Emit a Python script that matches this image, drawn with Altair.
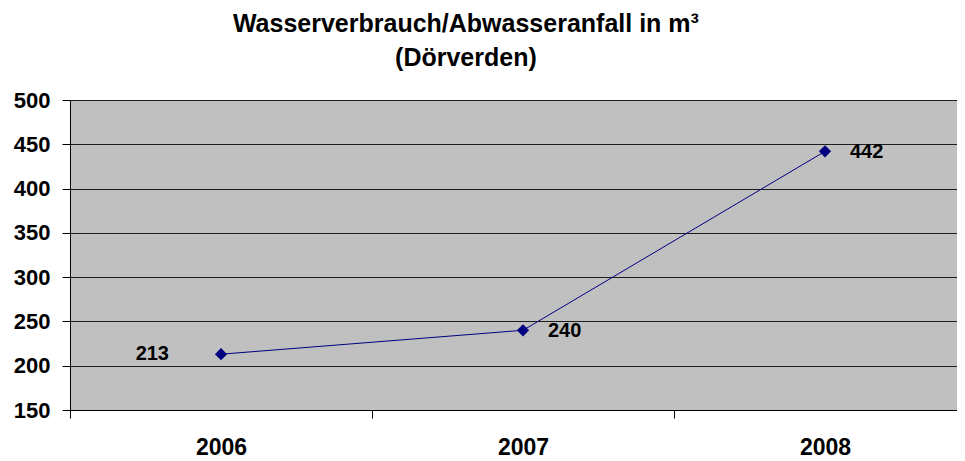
import altair as alt
import pandas as pd

years = ["2006", "2007", "2008"]
values = [213, 240, 442]
y_ticks = [150, 200, 250, 300, 350, 400, 450, 500]

df = pd.DataFrame({"year": years, "value": values})

FONT = "Liberation Sans"

x_enc = alt.X(
    "year:N",
    title=None,
    sort=years,
    scale=alt.Scale(type="band", range=[0, 906], paddingInner=0, paddingOuter=0),
    axis=alt.Axis(
        tickBand="extent", labelAngle=0, tickSize=8, tickColor="black",
        domainColor="black", labelFont=FONT, labelFontSize=23,
        labelFontWeight="bold", labelColor="black", labelPadding=18,
        grid=False,
    ),
)
y_enc = alt.Y(
    "value:Q",
    title=None,
    scale=alt.Scale(domain=[150, 500], nice=False, zero=False),
    axis=alt.Axis(
        values=y_ticks, tickSize=8, tickColor="black", domainColor="black",
        labelFont=FONT, labelFontSize=22, labelFontWeight="bold",
        labelColor="black", labelPadding=12, grid=True, gridColor="#000000",
        gridOpacity=0.85, gridWidth=1,
    ),
)

base = alt.Chart(df)

line = base.mark_line(color="#000080", strokeWidth=1).encode(x=x_enc, y=y_enc)
pts = base.mark_point(shape="diamond", filled=True, color="#000080", size=150, opacity=1).encode(x=x_enc, y=y_enc)

lbl_left = base.transform_filter(alt.datum.year == "2006").mark_text(
    align="right", baseline="middle", dx=-52, dy=0, font=FONT, fontSize=20,
    fontWeight="bold", color="black",
).encode(x=x_enc, y=y_enc, text="value:Q")

lbl_right = base.transform_filter(alt.datum.year != "2006").mark_text(
    align="left", baseline="middle", dx=25, dy=1, font=FONT, fontSize=20,
    fontWeight="bold", color="black",
).encode(x=x_enc, y=y_enc, text="value:Q")

chart = (
    alt.layer(line, pts, lbl_left, lbl_right)
    .properties(
        width=887,
        height=310,
        title=alt.TitleParams(
            text=["Wasserverbrauch/Abwasseranfall in m³", "(Dörverden)"],
            font=FONT, fontSize=25, fontWeight="bold", color="black",
            anchor="middle", frame="bounds", lineHeight=34, offset=18, dx=-29,
        ),
        autosize=alt.AutoSizeParams(type="none"),
        padding={"left": 62, "top": 92, "right": 0, "bottom": 50},
    )
    .configure(background="white")
    .configure_view(fill="#C0C0C0", stroke=None)
)

chart.save("out.html", embed_options={"renderer": "svg", "actions": False})
